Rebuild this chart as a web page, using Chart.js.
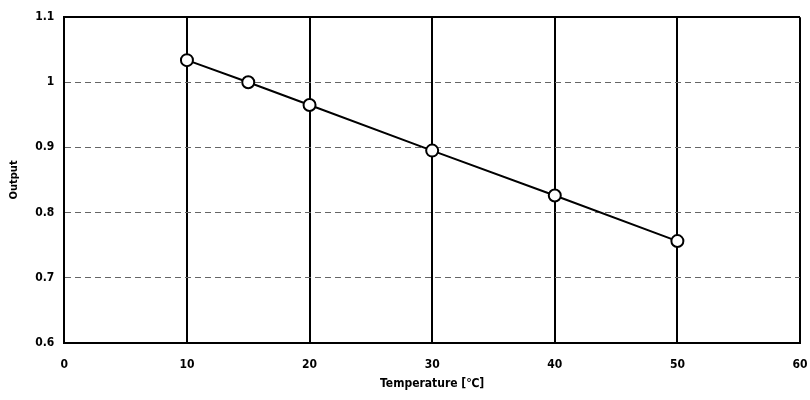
<!DOCTYPE html>
<html>
<head>
<meta charset="utf-8">
<script src="https://cdn.jsdelivr.net/npm/chart.js@4"></script>
<style>
  html, body { margin: 0; padding: 0; background: #fff; }
  canvas { display: block; }
</style>
</head>
<body>
<canvas id="chart" width="810" height="400"></canvas>
<script>
"use strict";
// values
const temperatures = [10, 15, 20, 30, 40, 50];
const outputs = [1.034, 1.0, 0.965, 0.895, 0.826, 0.756];
const xTicks = [0, 10, 20, 30, 40, 50, 60];
const yTicks = [0.6, 0.7, 0.8, 0.9, 1, 1.1];

const FONT = "'DejaVu Sans Condensed', 'DejaVu Sans', sans-serif";

function yLabel(v) {
    if (Math.abs(v - 1) < 1e-9) return "1";
    return v.toFixed(1);
}

const ctx = document.getElementById("chart").getContext("2d");
new Chart(ctx, {
    type: "scatter",
    data: {
        datasets: [{
            data: temperatures.map((t, i) => ({ x: t, y: outputs[i] })),
            showLine: true,
            borderColor: "#000",
            borderWidth: 2,
            backgroundColor: "#fff",
            pointBackgroundColor: "#fff",
            pointBorderColor: "#000",
            pointBorderWidth: 2,
            pointRadius: 6,
        }],
    },
    options: {
        responsive: false,
        animation: false,
        layout: { padding: { top: 16, right: 0, left: 4, bottom: 10 } },
        plugins: { legend: { display: false }, tooltip: { enabled: false } },
        scales: {
            x: {
                type: "linear",
                min: 0,
                max: 60,
                afterBuildTicks: (axis) => { axis.ticks = xTicks.map(v => ({ value: v })); },
                afterFit: (axis) => { axis.paddingRight = 10; },
                ticks: { color: "#000", font: { family: FONT, size: 12, weight: "bold" }, padding: 15 },
                grid: { color: "#000", lineWidth: 2, drawTicks: false },
                border: { color: "#000", width: 2 },
                title: { display: true, text: "Temperature [℃]", color: "#000",
                    font: { family: FONT, size: 12, weight: "bold", lineHeight: 1 }, padding: { top: -9, bottom: 0 } },
            },
            y: {
                min: 0.6,
                max: 1.1,
                afterBuildTicks: (axis) => { axis.ticks = yTicks.map(v => ({ value: v })); },
                ticks: { color: "#000", font: { family: FONT, size: 12, weight: "bold" }, padding: 10,
                    callback: (v) => yLabel(v) },
                grid: {
                    drawTicks: false,
                    color: (c) => (c.tick && c.tick.value > 1.05 ? "#000" : "#666"),
                    lineWidth: (c) => (c.tick && c.tick.value > 1.05 ? 2 : 1),
                },
                border: {
                    color: "#000",
                    width: 2,
                    dash: (c) => (c.tick && c.tick.value > 1.05 ? [] : [6, 4]),
                },
                title: { display: true, text: "Output", color: "#000",
                    font: { family: FONT, size: 11, weight: "bold" }, padding: { bottom: 4 } },
            },
        },
    },
});
</script>
</body>
</html>
